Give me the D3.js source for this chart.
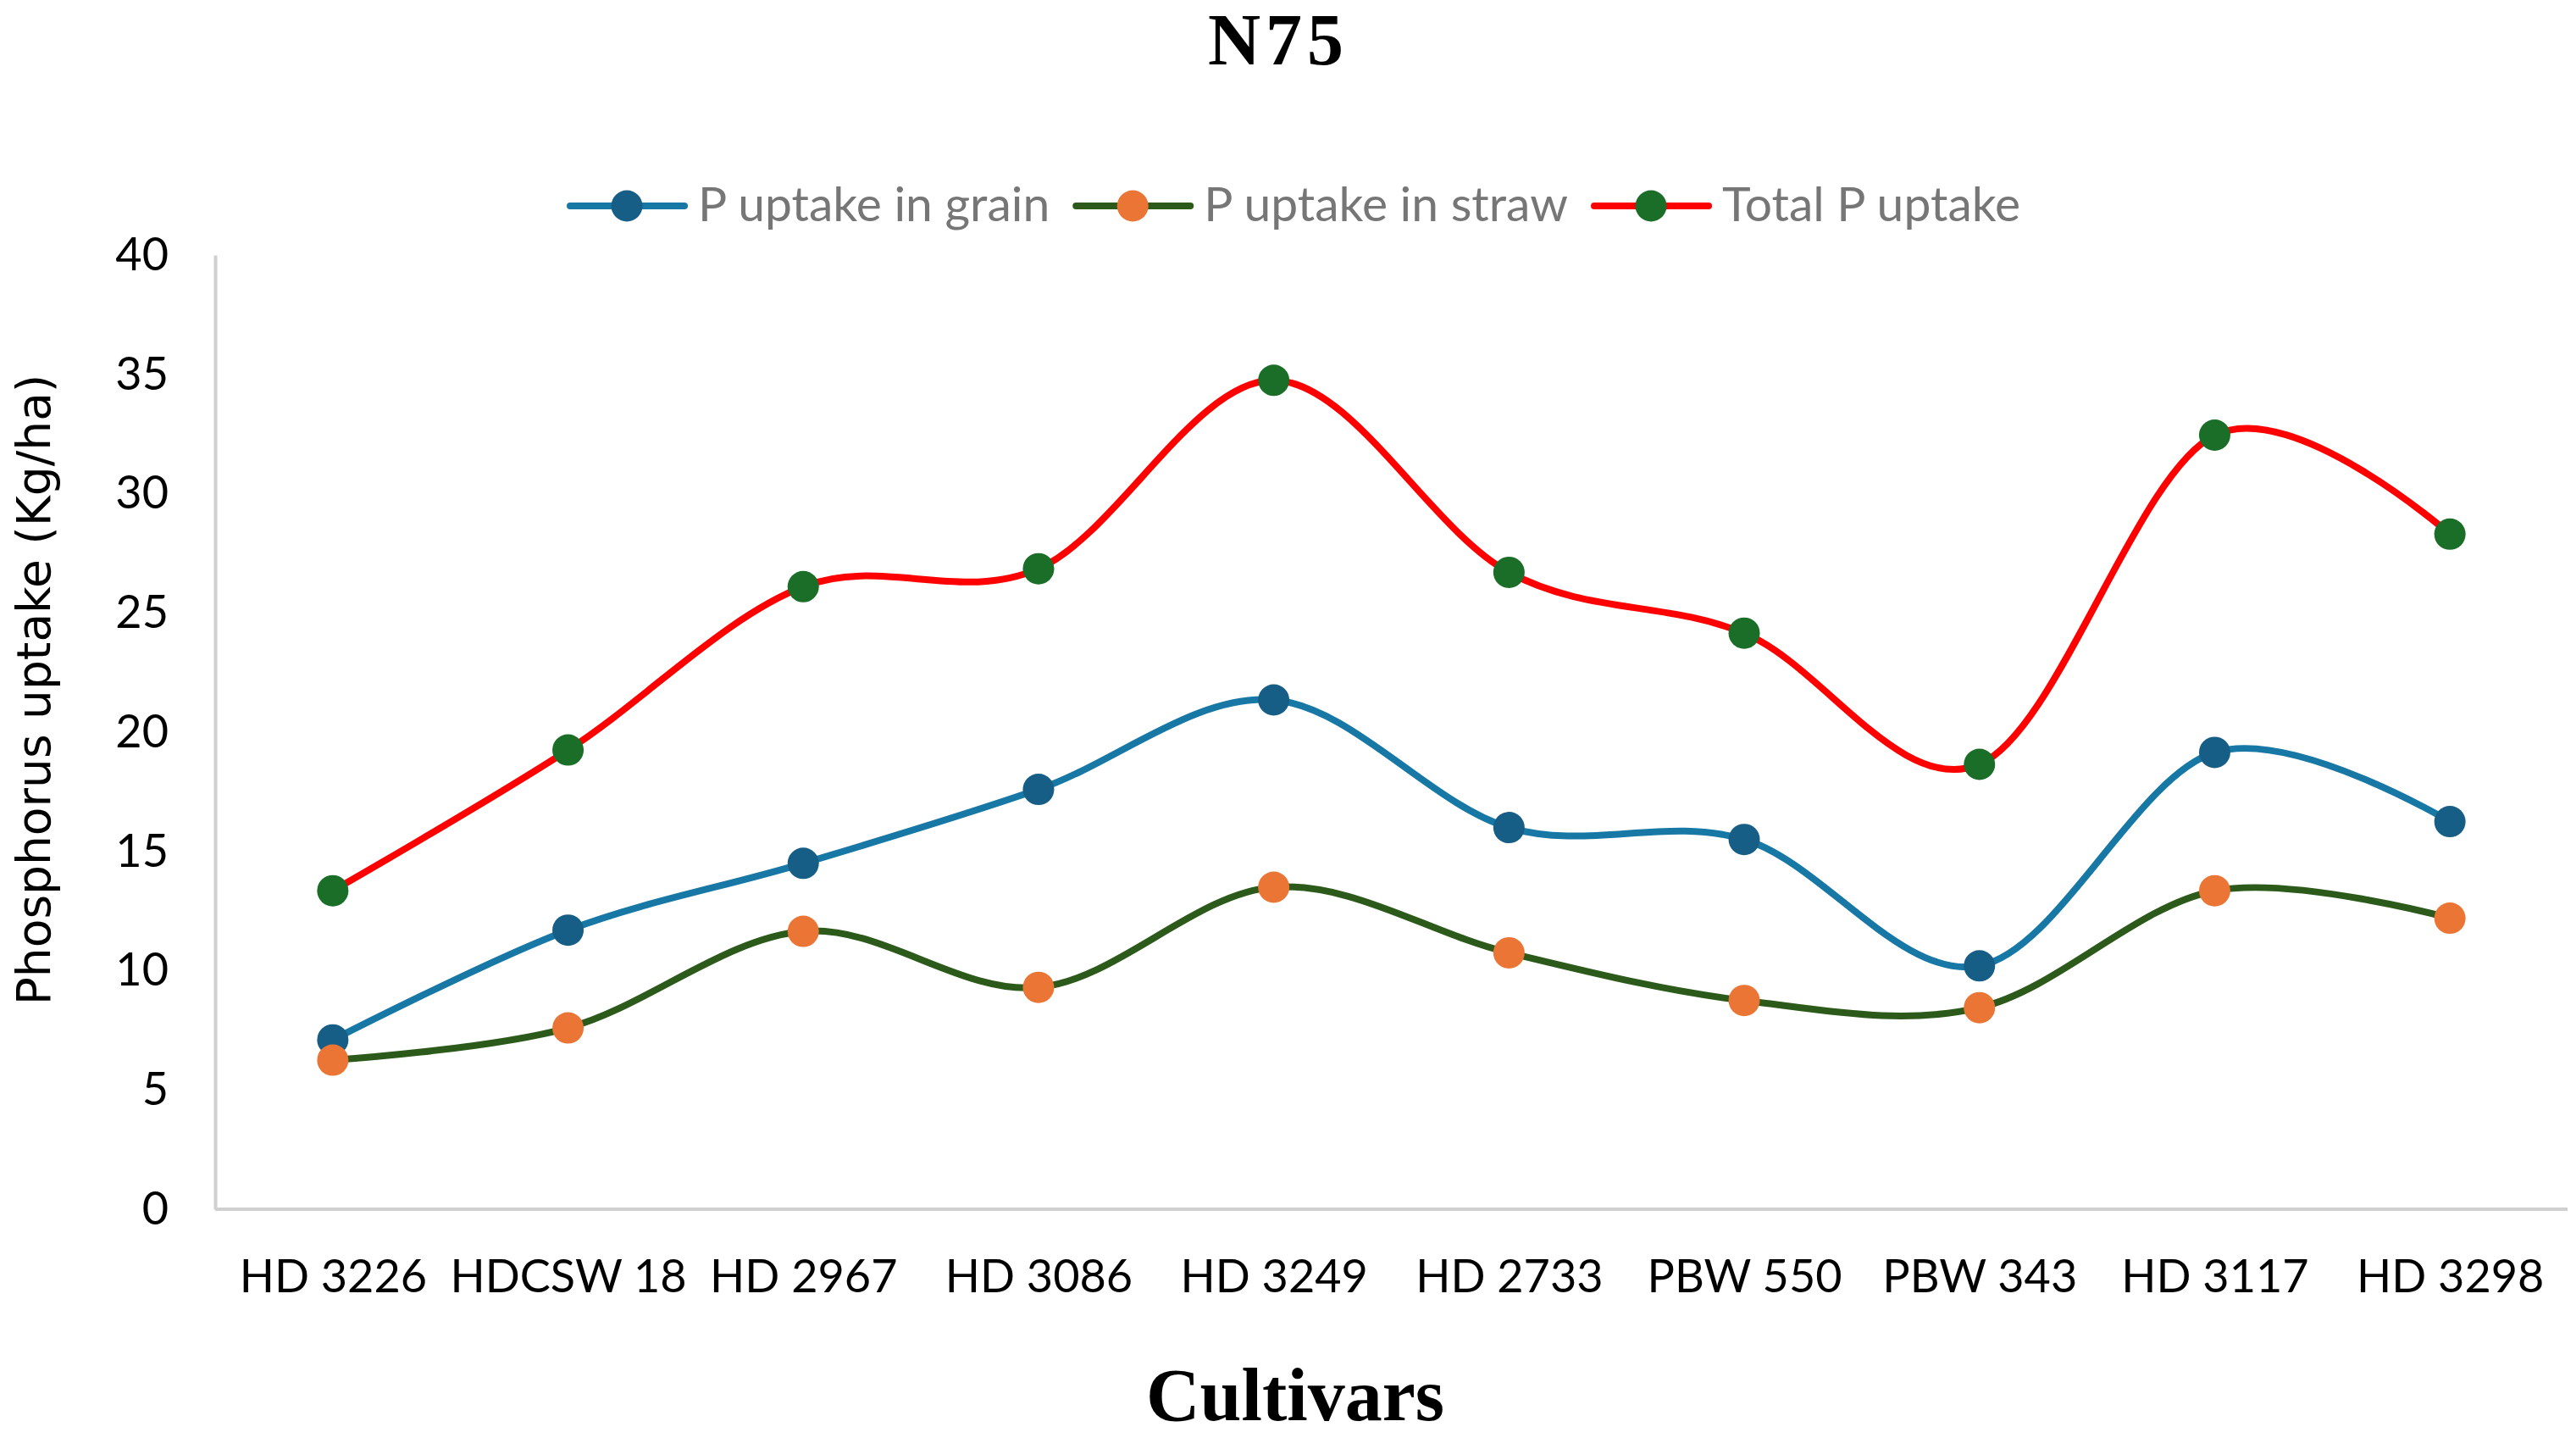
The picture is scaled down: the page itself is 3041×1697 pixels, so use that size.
<!DOCTYPE html>
<html>
<head>
<meta charset="utf-8">
<script src="https://cdn.jsdelivr.net/npm/d3@7"></script>
<style>
  body { margin: 0; background: #fff; }
  svg { display: block; }
</style>
</head>
<body>
<svg id="chart"></svg>
<script>
// data
var cultivars = ["HD 3226", "HDCSW 18", "HD 2967", "HD 3086", "HD 3249",
                 "HD 2733", "PBW 550", "PBW 343", "HD 3117", "HD 3298"];
var grain = [7.1, 11.7, 14.5, 17.6, 21.35, 16.0, 15.5, 10.2, 19.15, 16.25];
var straw = [6.25, 7.6, 11.65, 9.3, 13.5, 10.75, 8.75, 8.45, 13.35, 12.2];
var total = [13.35, 19.25, 26.1, 26.85, 34.75, 26.7, 24.15, 18.65, 32.45, 28.3];
var yTicks = [0, 5, 10, 15, 20, 25, 30, 35, 40];

var series = [
  {name: "P uptake in grain",  values: grain, line: "#1778a6", dot: "#175e86"},
  {name: "P uptake in straw",  values: straw, line: "#2c5a1a", dot: "#ea7534"},
  {name: "Total P uptake",     values: total, line: "#ff0000", dot: "#1a6e27"}
];

var W = 3041, H = 1697;
var margin = {top: 301, right: 10, bottom: 270, left: 254};

var svg = d3.select("#chart")
    .attr("width", W)
    .attr("height", H);

svg.append("rect").attr("width", W).attr("height", H).attr("fill", "#fff");

var x = d3.scalePoint()
    .domain(cultivars)
    .range([margin.left, W - margin.right])
    .padding(0.5);

var y = d3.scaleLinear()
    .domain([0, 40])
    .range([H - margin.bottom, margin.top]);

// axes (no tick marks, light grey lines)
var yAxis = svg.append("g")
    .attr("transform", "translate(" + margin.left + ",0)")
    .call(d3.axisLeft(y).tickValues(yTicks).tickSize(0).tickPadding(55));
yAxis.select(".domain").attr("stroke", "#d0d0d0").attr("stroke-width", 4);
yAxis.selectAll("text")
    .attr("font-family", "Lato, sans-serif")
    .attr("font-size", 54)
    .attr("fill", "#000");

var xAxis = svg.append("g")
    .attr("transform", "translate(0," + y(0) + ")")
    .call(d3.axisBottom(x).tickSize(0).tickPadding(60));
xAxis.select(".domain").attr("stroke", "#d0d0d0").attr("stroke-width", 4)
    .attr("d", "M" + margin.left + ",0H" + (W - margin.right));
xAxis.selectAll("text")
    .attr("font-family", "Lato, sans-serif")
    .attr("font-size", 54)
    .attr("fill", "#000");

// smoothed lines like the spreadsheet chart
var line = d3.line()
    .x(function(d, i) { return x(cultivars[i]); })
    .y(function(d) { return y(d); })
    .curve(d3.curveCatmullRom.alpha(0));

series.forEach(function(s) {
  svg.append("path")
      .datum(s.values)
      .attr("fill", "none")
      .attr("stroke", s.line)
      .attr("stroke-width", 8)
      .attr("d", line);
});

series.forEach(function(s) {
  svg.append("g").selectAll("circle")
      .data(s.values)
    .enter().append("circle")
      .attr("cx", function(d, i) { return x(cultivars[i]); })
      .attr("cy", function(d) { return y(d); })
      .attr("r", 18.5)
      .attr("fill", s.dot);
});

// legend
var legend = svg.append("g");
var lx = 673, ly = 243;
series.forEach(function(s) {
  var g = legend.append("g");
  g.append("line")
      .attr("x1", lx).attr("x2", lx + 135)
      .attr("y1", ly).attr("y2", ly)
      .attr("stroke", s.line).attr("stroke-width", 8)
      .attr("stroke-linecap", "round");
  g.append("circle")
      .attr("cx", lx + 67).attr("cy", ly).attr("r", 18.5)
      .attr("fill", s.dot);
  var t = g.append("text")
      .attr("x", lx + 151).attr("y", ly + 18)
      .attr("font-family", "Lato, sans-serif")
      .attr("font-size", 57)
      .attr("fill", "#767676")
      .text(s.name);
  lx = lx + 151 + t.node().getComputedTextLength() + 31;
});

// titles
svg.append("text")
    .attr("x", 1509).attr("y", 76)
    .attr("text-anchor", "middle")
    .attr("font-family", "'Liberation Serif', 'Times New Roman', serif")
    .attr("font-weight", "bold")
    .attr("font-size", 86)
    .attr("letter-spacing", 6)
    .text("N75");

svg.append("text")
    .attr("x", 1529).attr("y", 1676)
    .attr("text-anchor", "middle")
    .attr("font-family", "'Liberation Serif', 'Times New Roman', serif")
    .attr("font-weight", "bold")
    .attr("font-size", 88)
    .text("Cultivars");

svg.append("text")
    .attr("transform", "translate(59,814) rotate(-90)")
    .attr("text-anchor", "middle")
    .attr("font-family", "'DejaVu Sans', Verdana, sans-serif")
    .attr("font-size", 55)
    .attr("fill", "#000")
    .text("Phosphorus uptake (Kg/ha)");
</script>
</body>
</html>
